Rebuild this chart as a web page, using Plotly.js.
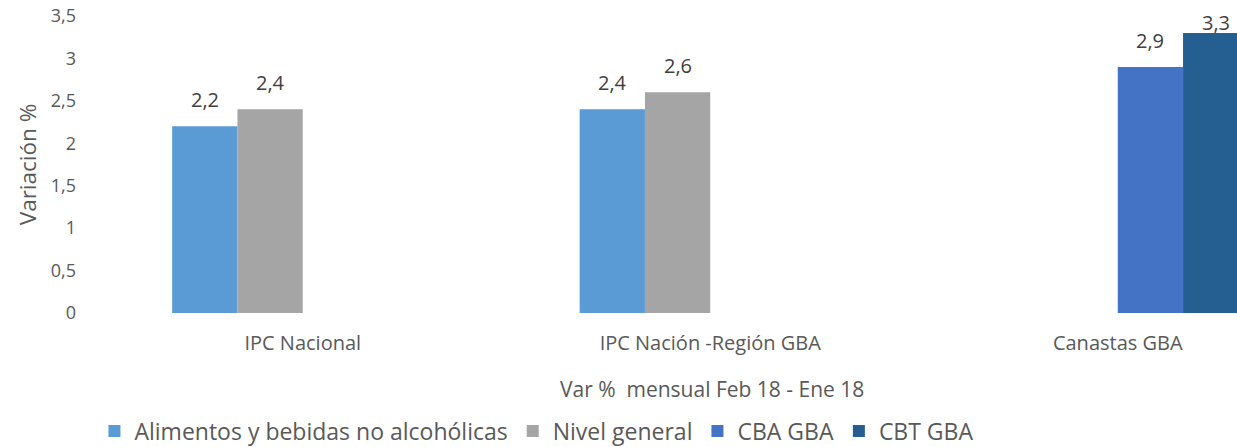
<!DOCTYPE html>
<html>
<head>
<meta charset="utf-8">
<script src="https://cdn.plot.ly/plotly-3.0.1.min.js"></script>
<style>
html,body{margin:0;padding:0;overflow:hidden;background:#fff;}
#chart{width:1237px;height:447px;}
</style>
</head>
<body>
<div id="chart"></div>
<script>
// ---- data ----
const categories = ['IPC Nacional', 'IPC Nación -Región GBA', 'Canastas GBA'];
const seriesNames = ['Alimentos y bebidas no alcohólicas', 'Nivel general', 'CBA GBA', 'CBT GBA'];
const alimentos = [2.2, 2.4, null];
const nivelGeneral = [2.4, 2.6, null];
const cbaGBA = [null, null, 2.9];
const cbtGBA = [null, null, 3.3];
const yTickVals = [0, 0.5, 1, 1.5, 2, 2.5, 3, 3.5];
const yRange = [0, 3.5];
const yTitle = 'Variación %';
const xTitle = 'Var %\u00a0 mensual Feb 18 - Ene 18';

// ---- styling ----
const colors = ['#5B9BD5', '#A5A5A5', '#4472C4', '#255E91'];
const FONT = '"Open Sans", Lato, sans-serif';
const seriesValues = [alimentos, nivelGeneral, cbaGBA, cbtGBA];

const plotLeft = 99, plotWidth = 1138, catStep = 407.5;
const plotTop = 16, plotHeight = 297;
const bargap = 0.359;
const slotPx = catStep * (1 - bargap) / seriesValues.length;

const traces = seriesValues.map((vals, i) => ({
  type: 'bar',
  name: seriesNames[i],
  x: categories,
  y: vals,
  marker: {color: colors[i], line: {width: 0}},
  hoverinfo: 'skip'
}));

// data labels at each bar's value (axis coordinates); kept inside the chart near the top
const labels = [];
seriesValues.forEach((vals, i) => {
  vals.forEach((v, j) => {
    if (v === null) return;
    const headroom = (yRange[1] - v) / (yRange[1] - yRange[0]) * plotHeight;
    labels.push({
      xref: 'x', yref: 'y',
      x: categories[j], y: v,
      xshift: (i - (seriesValues.length - 1) / 2) * slotPx,
      yshift: Math.min(11, headroom - 22),
      xanchor: 'center', yanchor: 'bottom',
      text: v.toFixed(1).replace('.', ','),
      showarrow: false,
      font: {family: FONT, size: 20, color: '#404040'}
    });
  });
});

const layout = {
  width: 1237,
  height: 447,
  margin: {l: plotLeft, r: 0, t: plotTop, b: 447 - plotTop - plotHeight, pad: 0, autoexpand: false},
  paper_bgcolor: '#ffffff',
  plot_bgcolor: '#ffffff',
  barmode: 'group',
  bargap: bargap,
  bargroupgap: 0,
  separators: ',.',
  font: {family: FONT, color: '#595959', size: 18},
  showlegend: true,
  legend: {
    orientation: 'h',
    x: -0.004, xanchor: 'left',
    y: (plotTop + plotHeight - 431) / plotHeight, yanchor: 'middle',
    font: {family: FONT, size: 23, color: '#595959'},
    itemwidth: 30,
    traceorder: 'normal'
  },
  xaxis: {
    type: 'category',
    range: [-0.5, -0.5 + plotWidth / catStep],
    showgrid: false,
    zeroline: false,
    showline: false,
    ticks: '',
    ticklabelstandoff: 16,
    tickfont: {family: FONT, size: 20, color: '#595959'},
    fixedrange: true
  },
  yaxis: {
    range: yRange,
    tickvals: yTickVals,
    showgrid: false,
    zeroline: false,
    showline: false,
    ticks: '',
    ticklabelstandoff: 22,
    tickfont: {family: FONT, size: 18, color: '#595959'},
    title: {text: yTitle, font: {family: FONT, size: 22.5, color: '#595959'}, standoff: 7},
    fixedrange: true
  },
  annotations: labels.concat([{
    text: xTitle,
    xref: 'paper', yref: 'paper',
    x: (712 - plotLeft) / plotWidth, xanchor: 'center',
    y: (plotTop + plotHeight - 389) / plotHeight, yanchor: 'middle',
    showarrow: false,
    font: {family: FONT, size: 21, color: '#595959'}
  }])
};

Plotly.newPlot('chart', traces, layout, {displayModeBar: false, staticPlot: true});
</script>
</body>
</html>
